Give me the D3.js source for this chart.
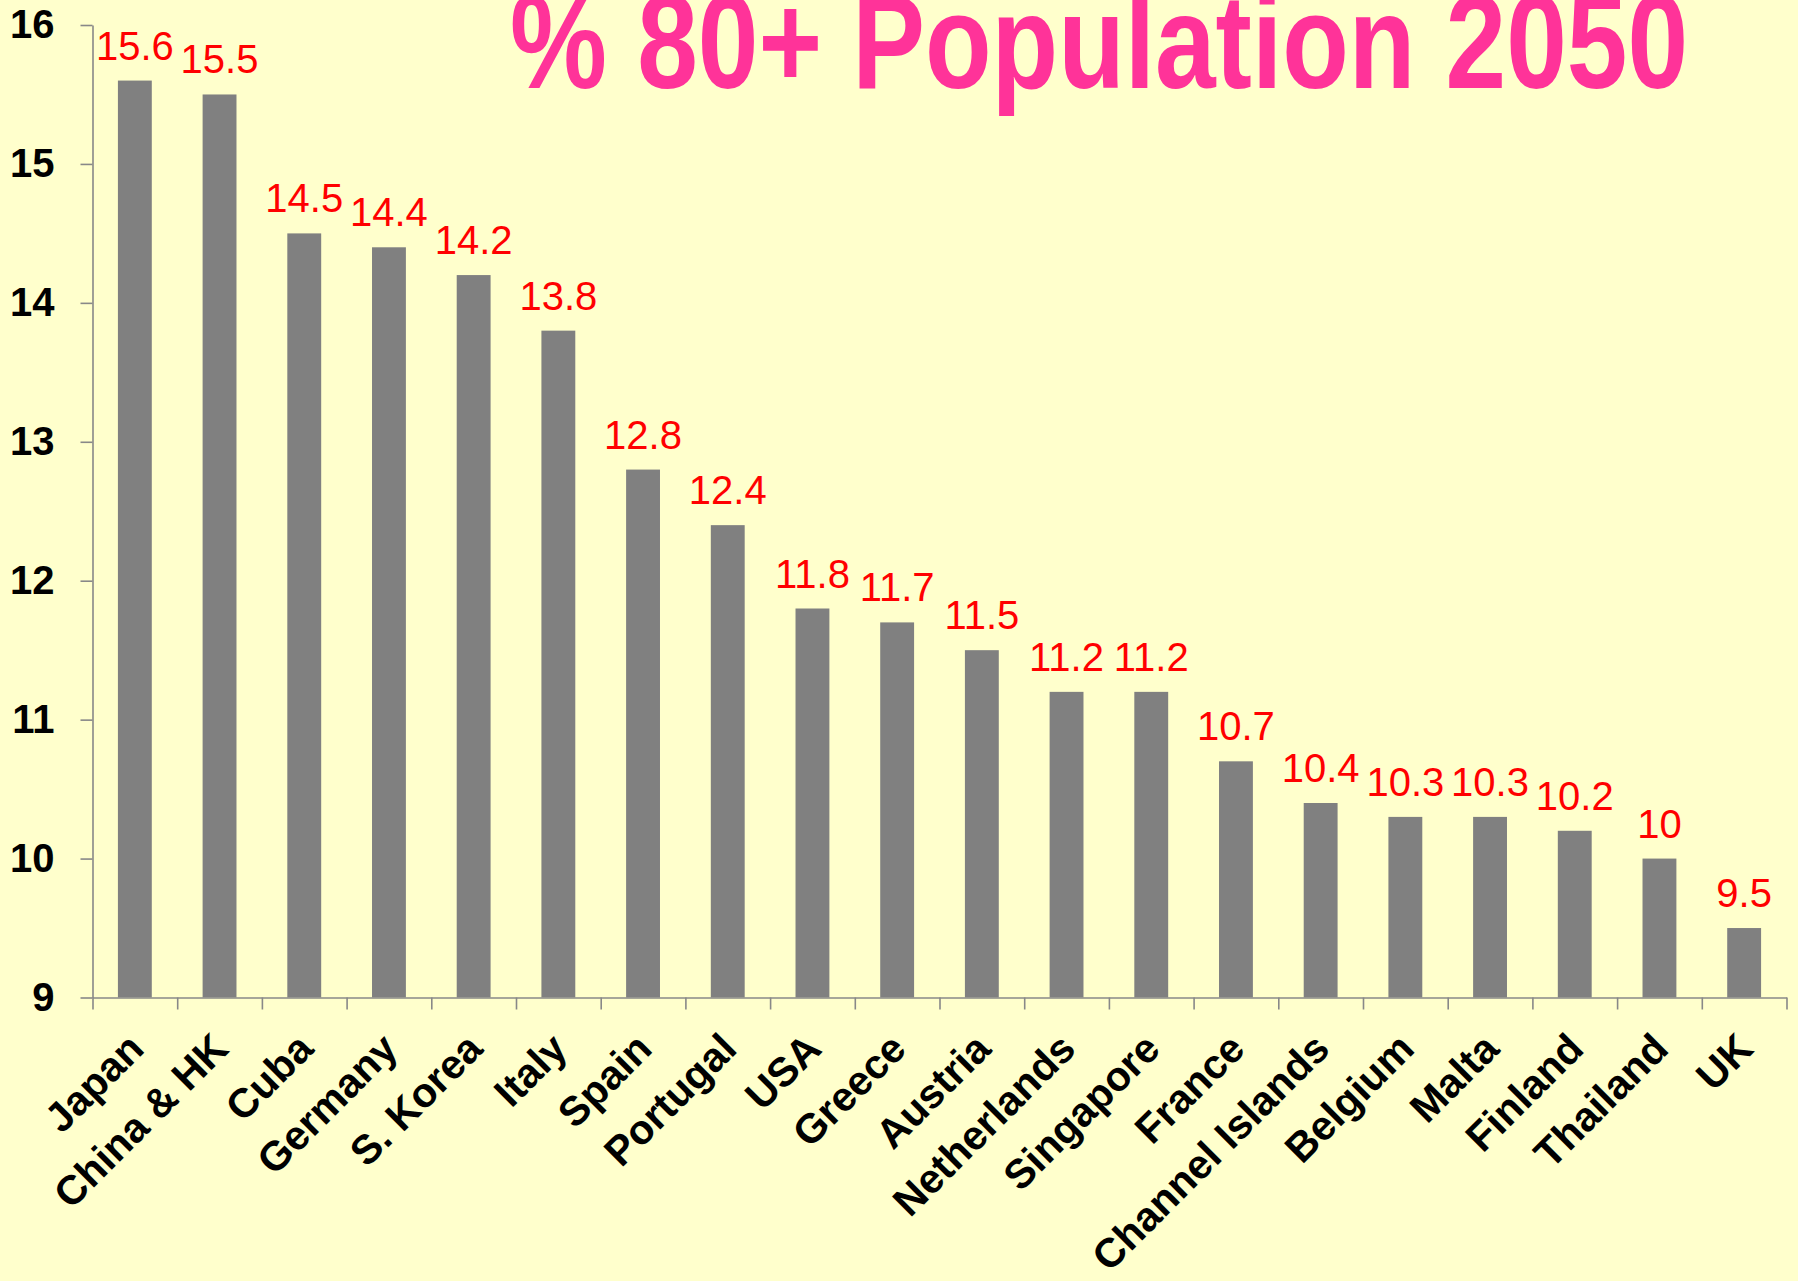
<!DOCTYPE html>
<html>
<head>
<meta charset="utf-8">
<script src="https://cdn.jsdelivr.net/npm/d3@7"></script>
<style>
  html, body { margin: 0; padding: 0; background: #FFFFCC; }
  svg { display: block; }
  text { font-family: "Liberation Sans", Arial, sans-serif; }
</style>
</head>
<body>
<div id="chart"></div>
<script>
var countries = ['Japan', 'China & HK', 'Cuba', 'Germany', 'S. Korea', 'Italy', 'Spain', 'Portugal',
  'USA', 'Greece', 'Austria', 'Netherlands', 'Singapore', 'France', 'Channel Islands', 'Belgium',
  'Malta', 'Finland', 'Thailand', 'UK'];
var pct80plus = [15.6, 15.5, 14.5, 14.4, 14.2, 13.8, 12.8, 12.4, 11.8, 11.7, 11.5, 11.2, 11.2, 10.7,
  10.4, 10.3, 10.3, 10.2, 10, 9.5];
var yTicks = [9, 10, 11, 12, 13, 14, 15, 16];
var title = '% 80+ Population 2050';

function draw() {
  var width = 1798, height = 1281;
  var left = 92.5, right = 1786.5, top = 25, bottom = 997.5;
  var axisColor = '#888888';

  var svg = d3.select('#chart').append('svg')
    .attr('width', width)
    .attr('height', height);

  svg.append('rect')
    .attr('width', width)
    .attr('height', height)
    .attr('fill', '#FFFFCC');

  var x = d3.scaleBand()
    .domain(countries)
    .range([left, right])
    .paddingInner(0.6)
    .paddingOuter(0.3);

  var y = d3.scaleLinear()
    .domain([9, 16])
    .range([bottom, top]);

  // slot edges for the x tick marks (ticks sit between categories)
  var slots = d3.scaleLinear()
    .domain([0, countries.length])
    .range([left, right]);

  // bars
  svg.selectAll('rect.bar').data(pct80plus)
    .enter()
    .append('rect')
    .attr('class', 'bar')
    .attr('x', function(d, i) { return x(countries[i]); })
    .attr('y', function(d) { return y(d); })
    .attr('width', x.bandwidth())
    .attr('height', function(d) { return bottom - y(d); })
    .attr('fill', '#808080');

  // value labels
  svg.selectAll('text.val').data(pct80plus)
    .enter()
    .append('text')
    .attr('class', 'val')
    .attr('x', function(d, i) { return x(countries[i]) + x.bandwidth() / 2; })
    .attr('y', function(d) { return y(d) - 21; })
    .attr('text-anchor', 'middle')
    .attr('font-size', 40)
    .attr('fill', '#FF0000')
    .text(function(d) { return d; });

  // y axis
  var yAxis = svg.append('g')
    .attr('transform', 'translate(' + left + ',0)')
    .call(d3.axisLeft(y).tickValues(yTicks).tickSize(12).tickSizeOuter(0).tickPadding(26)
      .tickFormat(d3.format('d')));
  yAxis.select('.domain').attr('stroke', axisColor).attr('stroke-width', 1.6);
  yAxis.selectAll('.tick line').attr('stroke', axisColor).attr('stroke-width', 1.6);
  yAxis.selectAll('.tick text')
    .attr('font-size', 40)
    .attr('font-weight', 'bold')
    .attr('font-family', '"Liberation Sans", Arial, sans-serif')
    .attr('fill', '#000');

  // x axis
  var xAxis = svg.append('g')
    .attr('transform', 'translate(0,' + bottom + ')')
    .call(d3.axisBottom(slots).tickValues(d3.range(countries.length + 1)).tickSize(12)
      .tickSizeOuter(0).tickFormat(''));
  xAxis.select('.domain').attr('stroke', axisColor).attr('stroke-width', 1.6);
  xAxis.selectAll('.tick line').attr('stroke', axisColor).attr('stroke-width', 1.6);

  // rotated category labels
  svg.selectAll('text.cat').data(countries)
    .enter()
    .append('text')
    .attr('class', 'cat')
    .attr('transform', function(d) {
      return 'translate(' + (x(d) + x.bandwidth() / 2 + 11) + ',1051) rotate(-45)';
    })
    .attr('text-anchor', 'end')
    .attr('font-size', 41)
    .attr('font-weight', 'bold')
    .attr('fill', '#000')
    .text(function(d) { return d; });

  // title, squeezed like the original
  svg.append('text')
    .attr('x', 510)
    .attr('y', 88)
    .attr('font-size', 134)
    .attr('font-weight', 'bold')
    .attr('fill', '#FF3399')
    .attr('textLength', 1178)
    .attr('lengthAdjust', 'spacingAndGlyphs')
    .text(title);
}
draw();
</script>
</body>
</html>
